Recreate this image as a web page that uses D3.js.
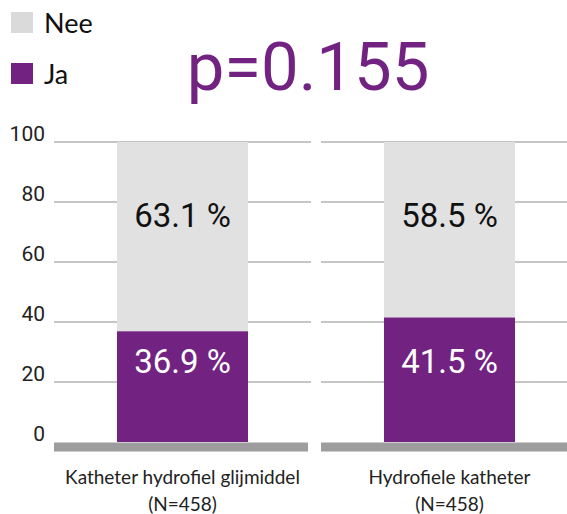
<!DOCTYPE html>
<html>
<head>
<meta charset="utf-8">
<script src="https://cdn.jsdelivr.net/npm/d3@7"></script>
<style>
  body { margin: 0; background: #fff; }
  svg { display: block; }
</style>
</head>
<body>
<svg id="drawing_region"></svg>
<script>
// data
const categories = ["Katheter hydrofiel glijmiddel", "Hydrofiele katheter"];
const groupSizes = ["(N=458)", "(N=458)"];
const jaValues = [36.9, 41.5];
const neeValues = [63.1, 58.5];
const seriesNames = ["Nee", "Ja"];
const yTicks = [0, 20, 40, 60, 80, 100];
const pValue = "p=0.155";

const purple = "#722382";
const lightGray = "#e1e1e1";

const width = 567, height = 514;

const svg = d3.select("#drawing_region")
    .attr("width", width)
    .attr("height", height);

const xscale = d3.scaleBand()
    .domain(categories)
    .range([54, 578])
    .paddingInner(0.0375)
    .paddingOuter(0);

const yscale = d3.scaleLinear()
    .domain([0, 100])
    .range([442, 142]);

const barWidth = 131;
const barX = c => xscale(c) + (xscale.bandwidth() - barWidth) / 2;

// gridlines, one set per category panel
const grid = svg.append("g");
categories.forEach(c => {
    grid.selectAll(null)
        .data(yTicks.filter(t => t > 0))
        .enter()
        .append("line")
        .attr("x1", xscale(c))
        .attr("x2", xscale(c) + xscale.bandwidth())
        .attr("y1", d => yscale(d))
        .attr("y2", d => yscale(d))
        .attr("stroke", "#b2b2b2")
        .attr("stroke-width", 1.5);
});

// y axis labels
const yaxis = d3.axisLeft(yscale)
    .tickValues(yTicks)
    .tickSize(0)
    .tickPadding(0);

svg.append("g")
    .attr("transform", "translate(45,0)")
    .call(yaxis)
    .call(g => g.select(".domain").remove())
    .selectAll("text")
    .attr("dy", "-0.08em")
    .attr("fill", "#222")
    .attr("font-family", "Roboto, sans-serif")
    .attr("font-size", "21px");

// stacked bars
const rows = categories.map((c, i) => ({ cat: c, ja: jaValues[i], nee: neeValues[i] }));

svg.selectAll(".nee")
    .data(rows)
    .enter()
    .append("rect")
    .attr("x", d => barX(d.cat))
    .attr("width", barWidth)
    .attr("y", d => yscale(d.ja + d.nee))
    .attr("height", d => yscale(d.ja) - yscale(d.ja + d.nee))
    .attr("fill", lightGray);

svg.selectAll(".ja")
    .data(rows)
    .enter()
    .append("rect")
    .attr("x", d => barX(d.cat))
    .attr("width", barWidth)
    .attr("y", d => yscale(d.ja))
    .attr("height", d => yscale(0) - yscale(d.ja))
    .attr("fill", purple);

// baseline bars
svg.selectAll(".base")
    .data(categories)
    .enter()
    .append("rect")
    .attr("x", d => xscale(d))
    .attr("width", xscale.bandwidth() - 3)
    .attr("y", yscale(0) + 0.5)
    .attr("height", 9)
    .attr("fill", "#9d9d9d");

// value labels
const fmt = v => v.toFixed(1) + " %";
svg.selectAll(".neeLabel")
    .data(rows)
    .enter()
    .append("text")
    .attr("x", d => barX(d.cat) + barWidth / 2)
    .attr("y", yscale(0) - 215)
    .attr("text-anchor", "middle")
    .attr("font-family", "Roboto, sans-serif")
    .attr("font-size", "33px")
    .attr("fill", "#111")
    .text(d => fmt(d.nee));

svg.selectAll(".jaLabel")
    .data(rows)
    .enter()
    .append("text")
    .attr("x", d => barX(d.cat) + barWidth / 2)
    .attr("y", yscale(0) - 69)
    .attr("text-anchor", "middle")
    .attr("font-family", "Roboto, sans-serif")
    .attr("font-size", "33px")
    .attr("fill", "#fff")
    .text(d => fmt(d.ja));

// category labels
const catLabels = svg.selectAll(".cat")
    .data(categories)
    .enter()
    .append("text")
    .attr("text-anchor", "middle")
    .attr("font-family", "Lato, sans-serif")
    .attr("font-size", "19px")
    .attr("fill", "#222");

catLabels.append("tspan")
    .attr("x", d => barX(d) + barWidth / 2)
    .attr("y", 484)
    .text(d => d);

catLabels.append("tspan")
    .attr("x", d => barX(d) + barWidth / 2)
    .attr("y", 511)
    .text((d, i) => groupSizes[i]);

// legend
const legendColors = ["#dadada", purple];
const legend = svg.selectAll(".legend")
    .data(seriesNames)
    .enter()
    .append("g")
    .attr("transform", (d, i) => `translate(11, ${12 + i * 51})`);

legend.append("rect")
    .attr("width", 22)
    .attr("height", 21)
    .attr("fill", (d, i) => legendColors[i]);

legend.append("text")
    .attr("x", 33)
    .attr("y", 21)
    .attr("font-family", "Lato, sans-serif")
    .attr("font-size", "27px")
    .attr("fill", "#111")
    .text(d => d);

// p-value title
svg.append("text")
    .attr("x", 308)
    .attr("y", 90)
    .attr("text-anchor", "middle")
    .attr("font-family", "Roboto, sans-serif")
    .attr("font-size", "67px")
    .attr("fill", purple)
    .text(pValue);
</script>
</body>
</html>
